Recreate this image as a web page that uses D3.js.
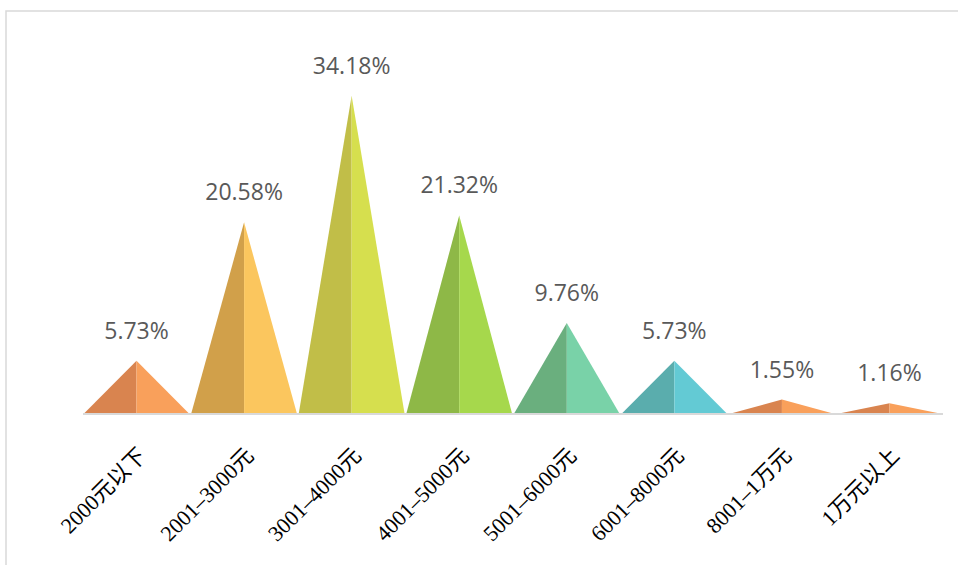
<!DOCTYPE html>
<html>
<head>
<meta charset="utf-8">
<script src="https://cdn.jsdelivr.net/npm/d3@7/dist/d3.min.js"></script>
<style>
  html, body { margin: 0; padding: 0; background: #fff; }
  svg { display: block; }
</style>
</head>
<body>
<svg id="chart" width="958" height="565"></svg>
<script>
const categories = ["2000元以下", "2001–3000元", "3001–4000元", "4001–5000元", "5001–6000元", "6001–8000元", "8001–1万元", "1万元以上"];
const values = [5.73, 20.58, 34.18, 21.32, 9.76, 5.73, 1.55, 1.16];
const valueLabels = ["5.73%", "20.58%", "34.18%", "21.32%", "9.76%", "5.73%", "1.55%", "1.16%"];
const darkColors = ["#D9844F", "#D1A04A", "#C1BE48", "#8EB847", "#6AAF7E", "#5AADAD", "#D9844F", "#D9844F"];
const lightColors = ["#F9A05B", "#FBC65E", "#D6DF4E", "#A6D84C", "#79D2A8", "#63CAD4", "#F9A05B", "#F9A05B"];

const svg = d3.select("#chart");
const W = 958, H = 565;

// outer border
svg.append("rect")
  .attr("x", 6).attr("y", 11)
  .attr("width", W + 20).attr("height", H + 20)
  .attr("fill", "none").attr("stroke", "#d9d9d9").attr("stroke-width", 1.5);

const x = d3.scaleBand().domain(categories).range([83, 943]).paddingInner(0.015).paddingOuter(0.005);
const y = d3.scaleLinear().domain([0, 35]).range([414, 88]);

const g = svg.append("g");
const data = categories.map((c, i) => ({ c, v: values[i], label: valueLabels[i], i }));

const bars = g.selectAll("g.bar").data(data).enter().append("g").attr("class", "bar");

bars.append("path")
  .attr("fill", d => darkColors[d.i])
  .attr("d", d => {
    const x0 = x(d.c), xm = x(d.c) + x.bandwidth() / 2;
    return `M${x0},${y(0)}L${xm},${y(d.v)}L${xm},${y(0)}Z`;
  });
bars.append("path")
  .attr("fill", d => lightColors[d.i])
  .attr("d", d => {
    const x1 = x(d.c) + x.bandwidth(), xm = x(d.c) + x.bandwidth() / 2;
    return `M${xm},${y(0)}L${xm},${y(d.v)}L${x1},${y(0)}Z`;
  });

bars.append("text")
  .attr("x", d => x(d.c) + x.bandwidth() / 2)
  .attr("y", d => y(d.v) - 22)
  .attr("text-anchor", "middle")
  .attr("font-family", "'Open Sans', 'Noto Sans', sans-serif")
  .attr("font-size", 23)
  .attr("fill", "#595959")
  .text(d => d.label);

// axis
const axis = d3.axisBottom(x).tickSize(0).tickPadding(0);
const ax = svg.append("g").attr("transform", `translate(0,${y(0)})`).call(axis);
ax.select(".domain").attr("stroke", "#d9d9d9").attr("stroke-width", 2)
  .attr("d", `M${x.range()[0]},0H${x.range()[1]}`);
ax.selectAll(".tick text")
  .attr("font-family", "'Liberation Serif', 'Noto Sans CJK SC', serif")
  .attr("font-size", 22)
  .attr("fill", "#000")
  .attr("text-anchor", "end")
  .attr("dy", 0)
  .attr("y", 0)
  .attr("transform", "translate(11,43) rotate(-45)");
</script>
</body>
</html>
